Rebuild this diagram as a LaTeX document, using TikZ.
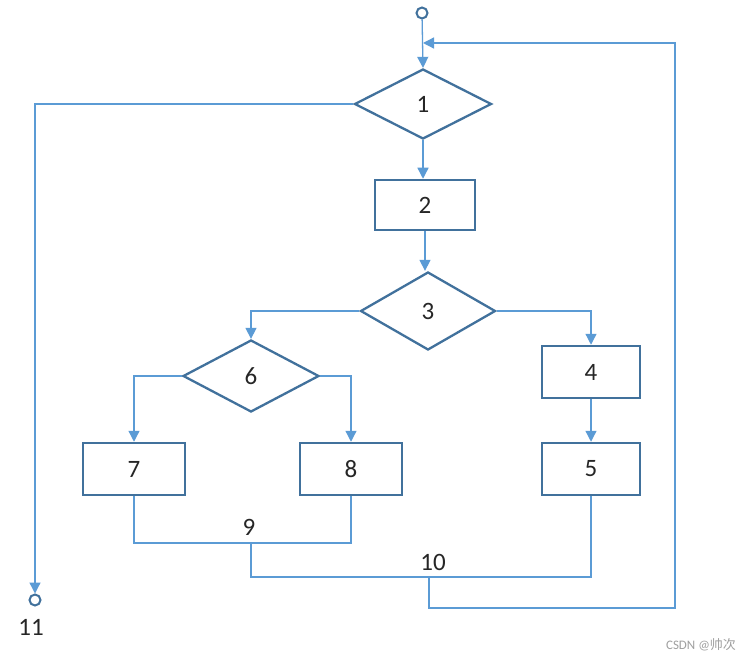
\documentclass[tikz,border=0pt]{standalone}
\usepackage{fontspec}
\setmainfont{Carlito}
\newfontfamily\cjkfont{Noto Sans CJK SC}
\usetikzlibrary{shapes.geometric,arrows.meta}
\definecolor{shapeblue}{HTML}{41719C}
\definecolor{lineblue}{HTML}{5B9BD5}
\begin{document}
\begin{tikzpicture}[x=1pt,y=-1pt,
  txt/.style={font=\fontsize{25}{30}\selectfont,text=black!85},
  box/.style={draw=shapeblue,line width=2.5pt,inner sep=0pt,fill=white,txt},
  dia/.style={draw=shapeblue,line width=2.3pt,diamond,inner sep=0pt,fill=white,txt},
  endcirc/.style={circle,draw=shapeblue,line width=2pt,minimum size=11pt,inner sep=0pt,fill=white},
  wire/.style={draw=lineblue,line width=1.3pt},
  conn/.style={wire,-{Triangle[length=11pt,width=11pt]}},
  lbl/.style={txt,inner sep=0pt}]
\useasboundingbox[fill=white] (0,0) rectangle (754,660);
% nodes
\node[endcirc] (c0) at (422,13) {};
\node[dia,minimum width=137pt,minimum height=70pt] (d1) at (423,104) {1};
\node[box,minimum width=100pt,minimum height=50pt] (b2) at (425,205) {2};
\node[dia,minimum width=135pt,minimum height=78pt] (d3) at (428,311) {3};
\node[dia,minimum width=136pt,minimum height=72pt] (d6) at (251,376) {6};
\node[box,minimum width=102pt,minimum height=52pt] (b7) at (134,469) {7};
\node[box,minimum width=102pt,minimum height=52pt] (b8) at (351,469) {8};
\node[box,minimum width=98pt,minimum height=52pt] (b4) at (591,372) {4};
\node[box,minimum width=98pt,minimum height=52pt] (b5) at (591,469) {5};
\node[endcirc] (c11) at (35,600) {};
\node[lbl] (l11) at (31,627) {11};
\node[lbl] (l9) at (249,527) {9};
\node[lbl] (l10) at (433,562) {10};
\node[text=gray!75,font=\fontsize{13}{15}\selectfont,inner sep=0pt] (wm) at (701,645) {CSDN @\cjkfont 帅次};
% junctions
\coordinate (m9) at (251,543);
\coordinate (m10) at (429,577);
\coordinate (fb) at (675,608);
\coordinate (fj) at (423,43);
% connectors
\draw[conn] (c0) -- (d1.north);
\draw[conn] (d1.west) -| (c11.north);
\draw[conn] (d1.south) -- (d1.south |- b2.north);
\draw[conn] (b2.south) -- (b2.south |- d3.north);
\draw[conn] (d3.west) -| (d6.north);
\draw[conn] (d3.east) -| (b4.north);
\draw[conn] (d6.west) -| (b7.north);
\draw[conn] (d6.east) -| (b8.north);
\draw[conn] (b4) -- (b5);
\draw[wire] (b7.south) |- (m9) -| (b8.south);
\draw[wire] (m9) |- (m10) -| (b5.south);
\draw[conn] (m10) |- (fb) |- (fj);
\end{tikzpicture}
\end{document}
